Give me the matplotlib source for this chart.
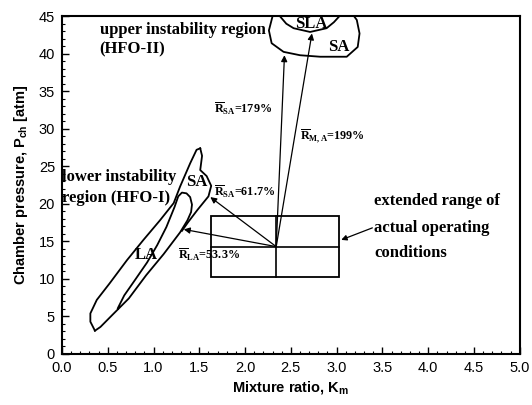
import numpy as np
import matplotlib
matplotlib.use("Agg")
import matplotlib.pyplot as plt
from matplotlib.patches import Rectangle
from matplotlib.ticker import MultipleLocator

plt.rcParams["mathtext.fontset"] = "custom"
plt.rcParams["mathtext.rm"] = "Liberation Serif:bold"
plt.rcParams["mathtext.it"] = "Liberation Serif:bold"
plt.rcParams["mathtext.bf"] = "Liberation Serif:bold"
plt.rcParams["mathtext.sf"] = "Liberation Sans:bold"

# lower instability region (HFO-I): outer envelope, left side up to the SA tip
lower_left_x = [0.36, 0.31, 0.31, 0.38, 0.52, 0.71, 0.89, 1.07, 1.22, 1.29, 1.40, 1.47, 1.51]
lower_left_y = [3.1, 4.3, 5.4, 7.2, 9.4, 12.5, 15.2, 17.8, 20.1, 22.3, 25.4, 27.2, 27.4]
# SA right boundary, from the tip down to where it meets the LA contour
sa_right_x = [1.51, 1.53, 1.51, 1.58, 1.63, 1.60, 1.48, 1.38, 1.31]
sa_right_y = [27.4, 26.4, 24.5, 23.7, 22.4, 21.0, 19.2, 17.6, 16.4]
# LA contour: right side from the bottom tip, round cap, inner left side back down
la_x = [0.36, 0.42, 0.55, 0.73, 0.92, 1.11, 1.29, 1.37, 1.41, 1.42, 1.40, 1.36, 1.31, 1.27,
        1.23, 1.14, 1.04, 0.93, 0.80, 0.68, 0.61]
la_y = [3.1, 3.6, 5.2, 7.4, 10.5, 13.3, 16.2, 17.8, 18.9, 19.9, 20.9, 21.4, 21.5, 21.0,
        19.6, 16.9, 14.5, 12.2, 9.9, 7.8, 6.1]

# upper instability region (HFO-II)
upper_sa_x = [2.30, 2.26, 2.29, 2.42, 2.60, 2.82, 3.11, 3.23, 3.25, 3.22, 3.19]
upper_sa_y = [45.0, 43.1, 41.4, 40.25, 39.8, 39.6, 39.6, 40.9, 42.7, 44.5, 45.0]
upper_sla_x = [2.38, 2.45, 2.53, 2.71, 2.89, 2.97, 3.03]
upper_sla_y = [45.0, 44.0, 43.4, 42.9, 43.4, 44.2, 45.0]

# extended range of actual operating conditions
box_x = [1.63, 3.03]
box_y = [10.2, 18.4]
center = (2.34, 14.3)

# arrow targets from the operating point
arrow_tips = [(1.33, 16.6), (1.62, 20.9), (2.43, 39.8), (2.73, 42.7)]

fig = plt.figure(figsize=(5.32, 4.05), dpi=100)
ax = fig.add_axes([0.1165, 0.126, 0.8605, 0.834])

lw = 1.3
ax.plot(lower_left_x, lower_left_y, color="k", lw=lw)
ax.plot(sa_right_x, sa_right_y, color="k", lw=lw)
ax.plot(la_x, la_y, color="k", lw=lw)
ax.plot(upper_sa_x, upper_sa_y, color="k", lw=lw, clip_on=False)
ax.plot(upper_sla_x, upper_sla_y, color="k", lw=lw, clip_on=False)

ax.add_patch(Rectangle((box_x[0], box_y[0]), box_x[1] - box_x[0], box_y[1] - box_y[0],
                       fill=False, ec="k", lw=1.3))
ax.plot(box_x, [center[1], center[1]], color="k", lw=1.2)
ax.plot([center[0], center[0]], box_y, color="k", lw=1.2)

for tx, ty in arrow_tips:
    ax.annotate("", xy=(tx, ty), xytext=center,
                arrowprops=dict(arrowstyle="-|>", color="k", lw=0.9,
                                mutation_scale=9, shrinkA=0, shrinkB=0))

# arrow pointing at the box from its caption
ax.annotate("", xy=(3.05, 15.2), xytext=(3.39, 16.8),
            arrowprops=dict(arrowstyle="-|>", color="k", lw=0.9,
                            mutation_scale=8, shrinkA=0, shrinkB=0))

serif = dict(family="Liberation Serif", weight="bold", fontsize=12, va="center", ha="left")
ax.text(0.41, 43.2, "upper instability region", **serif)
ax.text(0.41, 40.6, "(HFO-II)", **serif)
ax.text(0.0, 23.6, "lower instability", **serif)
ax.text(0.0, 20.8, "region (HFO-I)", **serif)
ax.text(1.35, 22.9, "SA", **serif)
ax.text(0.79, 13.2, "LA", **serif)
ax.text(2.55, 43.9, "SLA", **serif)
ax.text(2.91, 40.9, "SA", **serif)
ax.text(3.41, 20.4, "extended range of", **serif)
ax.text(3.41, 16.8, "actual operating", **serif)
ax.text(3.41, 13.4, "conditions", **serif)

small = dict(family="Liberation Serif", weight="bold", fontsize=8.7, va="center", ha="left")
ax.text(1.66, 21.6, r"$\overline{\mathrm{R}}_{\mathrm{SA}}$=61.7%", **small)
ax.text(1.27, 13.2, r"$\overline{\mathrm{R}}_{\mathrm{LA}}$=53.3%", **small)
ax.text(1.66, 32.7, r"$\overline{\mathrm{R}}_{\mathrm{SA}}$=179%", **small)
ax.text(2.60, 28.9, r"$\overline{\mathrm{R}}_{\mathrm{M,A}}$=199%", **small)

ax.set_xlim(0, 5)
ax.set_ylim(0, 45)
ax.xaxis.set_major_locator(MultipleLocator(0.5))
ax.xaxis.set_minor_locator(MultipleLocator(0.1))
ax.yaxis.set_major_locator(MultipleLocator(5))
ax.yaxis.set_minor_locator(MultipleLocator(1))
ax.tick_params(which="both", direction="in", top=False, right=False)
ax.tick_params(which="major", length=5, width=1.0, labelsize=10.5, pad=5)
ax.tick_params(which="minor", length=2.5, width=0.8)
ax.xaxis.set_major_formatter(plt.FormatStrFormatter("%.1f"))
for lab in ax.get_xticklabels() + ax.get_yticklabels():
    lab.set_family("Liberation Sans")
for sp in ax.spines.values():
    sp.set_linewidth(1.5)

ax.set_xlabel(r"Mixture ratio, $\mathsf{K}_{\mathsf{m}}$", family="Liberation Sans",
              weight="bold", fontsize=10.5, labelpad=3)
ax.set_ylabel(r"Chamber pressure, $\mathsf{P}_{\mathsf{ch}}$ [atm]", family="Liberation Sans",
              weight="bold", fontsize=10.5, labelpad=6)

fig.savefig("out.png", dpi=100)
